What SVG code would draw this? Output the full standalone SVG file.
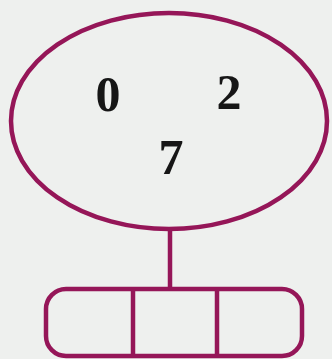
<svg xmlns="http://www.w3.org/2000/svg" width="332" height="359" viewBox="0 0 332 359">
<style>
.s{fill:none;stroke:#951658;stroke-width:4.5}
.t{font-family:"Liberation Serif","Times New Roman",serif;font-weight:bold;font-size:50px;fill:#161616;text-anchor:middle}
</style>
<rect width="332" height="359" fill="#eef0ee"/>
<g id="connectors">
<line class="s" x1="170" y1="229" x2="170" y2="290"/>
</g>
<g id="set">
<ellipse class="s" cx="169" cy="121" rx="158" ry="108"/>
<text class="t" x="108" y="111">0</text>
<text class="t" x="229" y="109">2</text>
<text class="t" x="171" y="174">7</text>
</g>
<g id="boxes">
<rect class="s" x="46" y="289" width="256" height="67" rx="20"/>
<line class="s" x1="133" y1="289" x2="133" y2="356"/>
<line class="s" x1="217" y1="289" x2="217" y2="356"/>
</g>
</svg>
